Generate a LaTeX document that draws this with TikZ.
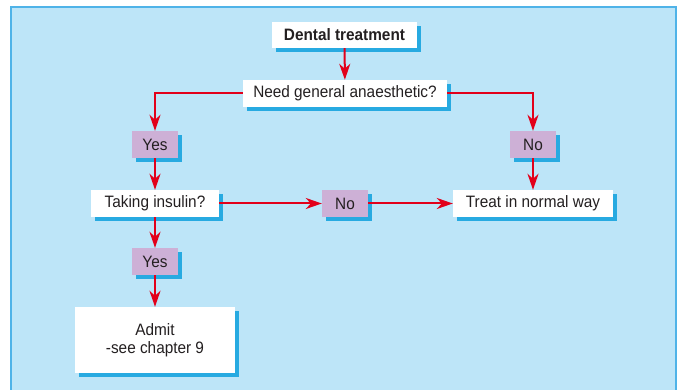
\documentclass[tikz,border=0pt]{standalone}
\usepackage{fontspec}
\setmainfont{Liberation Sans}[FakeStretch=0.93]
\usetikzlibrary{arrows.meta,shadows}
\definecolor{panelfill}{HTML}{BDE5F8}
\definecolor{panelline}{HTML}{4FB3E8}
\definecolor{shadowc}{HTML}{27AAE1}
\definecolor{purplec}{HTML}{CDB0D6}
\definecolor{arrowred}{HTML}{E2001A}
\definecolor{textc}{HTML}{231F20}
\begin{document}
\begin{tikzpicture}[x=1pt,y=-1pt,
  box/.style={draw=none,fill=white,inner sep=0pt,align=center,text=textc,
    font=\fontsize{16.5}{18}\selectfont,minimum height=27pt,
    drop shadow={shadow xshift=3.5pt,shadow yshift=-4pt,fill=shadowc,opacity=1}},
  answer/.style={box,fill=purplec,minimum width=46pt},
  conn/.style={draw=arrowred,line width=2pt,-{Stealth[length=16pt,width=11pt,inset=5pt]}}]
\useasboundingbox (0,0) rectangle (681,390);
\fill[panelfill] (11,7) rectangle (676,395);
\draw[panelline,line width=1.5pt] (11,395) -- (11,7) -- (676,7) -- (676,395);
\node[box,font=\fontsize{16.5}{18}\selectfont\bfseries,minimum width=145pt,minimum height=26pt] (dental) at (344.5,35) {Dental treatment};
\node[box,minimum width=204pt] (nga) at (345,93.5) {Need general anaesthetic?};
\node[answer] (yes1) at (155,144.5) {Yes};
\node[answer] (no1) at (533,144.5) {No};
\node[box,minimum width=128pt] (insulin) at (155,203.5) {Taking insulin?};
\node[answer] (no2) at (345,203.5) {No};
\node[box,minimum width=160pt] (treat) at (533,203.5) {Treat in normal way};
\node[answer] (yes2) at (155,261.5) {Yes};
\node[box,minimum width=160pt,minimum height=66pt,font=\fontsize{16.5}{18}\selectfont] (admit) at (155,340) {Admit\\-see chapter 9};
\draw[conn] (dental) -- (nga);
\draw[conn] (nga.west) -| (yes1.north);
\draw[conn] (nga.east) -| (no1.north);
\draw[conn] (yes1) -- (insulin);
\draw[conn] (no1) -- (treat);
\draw[conn] (insulin.east) -- (no2.west);
\draw[conn] (no2.east) -- (treat.west);
\draw[conn] (insulin) -- (yes2);
\draw[conn] (yes2) -- (admit);
\end{tikzpicture}
\end{document}
